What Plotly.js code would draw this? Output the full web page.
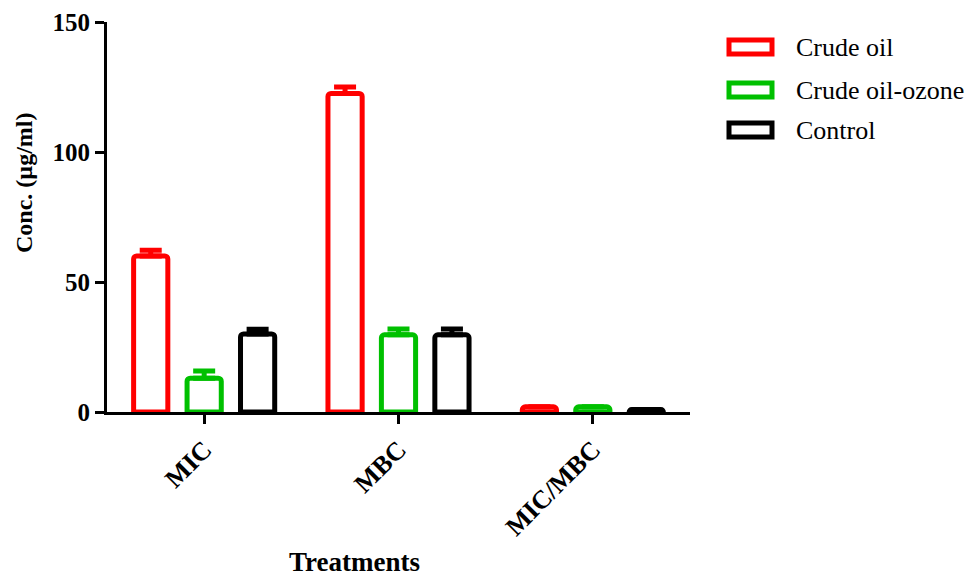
<!DOCTYPE html>
<html>
<head>
<meta charset="utf-8">
<script src="https://cdn.plot.ly/plotly-3.0.1.min.js"></script>
<style>html,body{margin:0;padding:0;background:#fff;}#chart{width:968px;height:579px;}</style>
</head>
<body>
<div id="chart"></div>
<script>
var categories = ["MIC", "MBC", "MIC/MBC"];
var seriesNames = ["Crude oil", "Crude oil-ozone", "Control"];
var crudeOil = [60, 122.5, 2];
var crudeOilErr = [2.2, 2.5, 0];
var crudeOilOzone = [13, 29.7, 2];
var crudeOilOzoneErr = [2.8, 2.2, 0];
var control = [30, 29.7, 1];
var controlErr = [1.8, 2.2, 0];
var yTicks = [0, 50, 100, 150];

var colors = ["#ff0000", "#00c000", "#000000"];
var vals = [crudeOil, crudeOilOzone, control];
var errs = [crudeOilErr, crudeOilOzoneErr, controlErr];
var serif = "Liberation Serif, Times New Roman, serif";

var traces = vals.map(function(v, i) {
  return {
    type: "bar",
    name: seriesNames[i],
    x: categories,
    y: v,
    showlegend: false,
    marker: {color: "#ffffff", line: {color: colors[i], width: 5}, cornerradius: 3},
    error_y: {type: "data", symmetric: false, array: errs[i], arrayminus: [0,0,0],
              color: colors[i], thickness: 5, width: 11, visible: true},
    cliponaxis: false
  };
});

// custom legend (paper coordinates) matching the reference's wide swatches
var L = 107, W = 583, T = 22, H = 390;
function px(x) { return (x - L) / W; }
function py(y) { return (T + H - y) / H; }
var legendRowsY = [47, 90, 130];
var shapes = [], annotations = [];
seriesNames.forEach(function(name, i) {
  var cy = legendRowsY[i];
  shapes.push({type: "rect", xref: "paper", yref: "paper",
    x0: px(729), x1: px(772), y0: py(cy + 7), y1: py(cy - 7),
    line: {color: colors[i], width: 5}, fillcolor: "#ffffff"});
  annotations.push({xref: "paper", yref: "paper", x: px(794), y: py(cy),
    xanchor: "left", yanchor: "middle", showarrow: false, text: name,
    font: {family: serif, size: 26, color: "#000"}});
});
annotations.push({xref: "paper", yref: "paper", x: px(354), y: py(562),
  xanchor: "center", yanchor: "middle", showarrow: false, text: "<b>Treatments</b>",
  font: {family: serif, size: 27, color: "#000"}});
annotations.push({xref: "paper", yref: "paper", x: px(24), y: py(183),
  xanchor: "center", yanchor: "middle", showarrow: false, textangle: -90,
  text: "<b>Conc. (µg/ml)</b>", font: {family: serif, size: 24, color: "#000"}});

var layout = {
  width: 968, height: 579,
  margin: {l: 107, r: 278, t: 22, b: 167},
  paper_bgcolor: "#fff", plot_bgcolor: "#fff",
  barmode: "group", bargap: 0.175, bargroupgap: 0.36,
  showlegend: false,
  shapes: shapes,
  annotations: annotations,
  xaxis: {
    type: "category", range: [-0.5, 2.5],
    showline: true, linecolor: "#000", linewidth: 3,
    ticks: "outside", ticklen: 9, tickwidth: 3, tickcolor: "#000",
    tickangle: -45, showgrid: false, zeroline: false,
    tickfont: {family: serif, size: 26, color: "#000", weight: "bold"}
  },
  yaxis: {
    range: [0, 150], tickvals: yTicks, ticktext: yTicks.map(String),
    showline: true, linecolor: "#000", linewidth: 3,
    ticks: "outside", ticklen: 9, tickwidth: 3, tickcolor: "#000",
    showgrid: false, zeroline: false,
    tickfont: {family: serif, size: 25, color: "#000", weight: "bold"}
  }
};

Plotly.newPlot("chart", traces, layout, {displayModeBar: false, staticPlot: true});
</script>
</body>
</html>
